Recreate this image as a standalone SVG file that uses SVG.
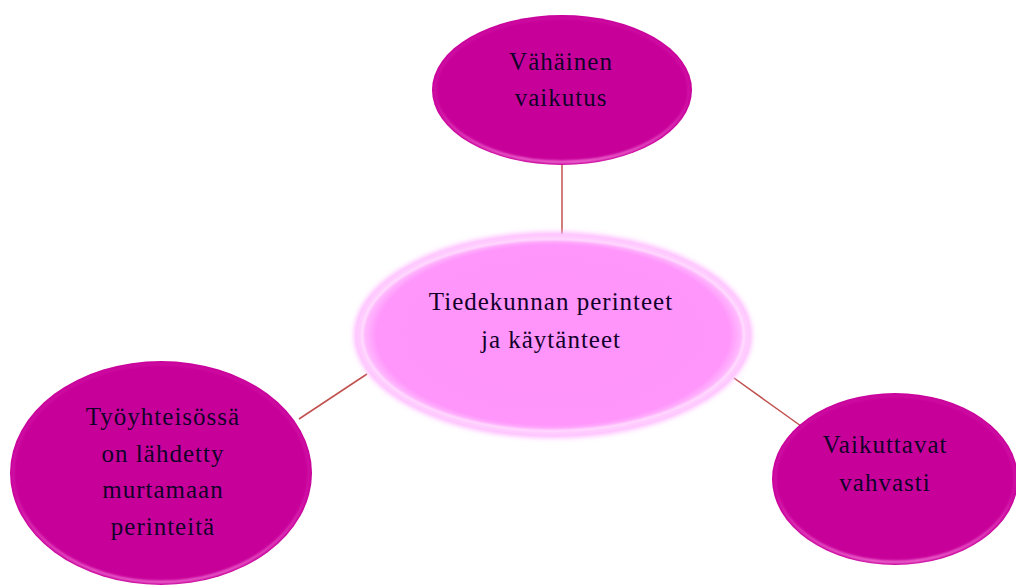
<svg xmlns="http://www.w3.org/2000/svg" width="1016" height="587" viewBox="0 0 1016 587">
  <style>
    .conn { stroke: #c0504d; stroke-width: 1.5; fill: none; }
    .outer { fill: #c8009a; }
    .rim { fill: none; stroke: url(#rimGrad); stroke-width: 2.5; filter: url(#soft); }
    .label { font-family: "Liberation Serif", "Times New Roman", serif; font-size: 25px; fill: #12002a; text-anchor: middle; letter-spacing: 1px; }
  </style>
  <defs>
    <linearGradient id="rimGrad" x1="0" y1="0" x2="0" y2="1">
      <stop offset="0" stop-color="#ff80e0" stop-opacity="0.1"/>
      <stop offset="0.6" stop-color="#ff80e0" stop-opacity="0.15"/>
      <stop offset="1" stop-color="#ff9ae8" stop-opacity="0.75"/>
    </linearGradient>
    <radialGradient id="centerFill" cx="0.5" cy="0.5" r="0.5">
      <stop offset="0" stop-color="#ff94fb"/>
      <stop offset="0.9" stop-color="#ff96fb"/>
      <stop offset="1" stop-color="#ffd0ff"/>
    </radialGradient>
    <filter id="soft" x="-10%" y="-10%" width="120%" height="120%">
      <feGaussianBlur stdDeviation="1.2"/>
    </filter>
    <filter id="glow" x="-20%" y="-20%" width="140%" height="140%">
      <feGaussianBlur stdDeviation="2.5"/>
    </filter>
  </defs>

  <rect width="1016" height="587" fill="#ffffff"/>

  <!-- connectors between the centre and the outer nodes -->
  <g id="connectors">
    <line class="conn" x1="562" y1="165" x2="562" y2="234"/>
    <line class="conn" x1="299" y1="419" x2="367" y2="374"/>
    <line class="conn" x1="734" y1="378" x2="801" y2="426"/>
  </g>

  <g id="node-top">
    <ellipse class="outer" cx="562" cy="90" rx="130" ry="75"/>
    <ellipse class="rim" cx="562" cy="90" rx="127" ry="72"/>
    <text class="label" x="561" y="70">Vähäinen</text>
    <text class="label" x="561" y="106">vaikutus</text>
  </g>

  <g id="node-center">
    <ellipse cx="553" cy="335" rx="199" ry="103" fill="#ffb8ff" filter="url(#glow)"/>
    <ellipse cx="553" cy="335" rx="196" ry="100" fill="url(#centerFill)"/>
    <ellipse cx="553" cy="335" rx="191" ry="96" fill="none" stroke="#ffffff" stroke-opacity="0.65" stroke-width="2" filter="url(#soft)"/>
    <text class="label" x="551" y="310">Tiedekunnan perinteet</text>
    <text class="label" x="551" y="348">ja käytänteet</text>
  </g>

  <g id="node-left">
    <ellipse class="outer" cx="161" cy="473" rx="151" ry="112"/>
    <ellipse class="rim" cx="161" cy="473" rx="148" ry="109"/>
    <text class="label" x="163" y="425">Työyhteisössä</text>
    <text class="label" x="163" y="462">on lähdetty</text>
    <text class="label" x="163" y="498">murtamaan</text>
    <text class="label" x="163" y="535">perinteitä</text>
  </g>

  <g id="node-right">
    <ellipse class="outer" cx="895" cy="479" rx="123" ry="86"/>
    <ellipse class="rim" cx="895" cy="479" rx="120" ry="83"/>
    <text class="label" x="885" y="453">Vaikuttavat</text>
    <text class="label" x="885" y="491">vahvasti</text>
  </g>
</svg>
